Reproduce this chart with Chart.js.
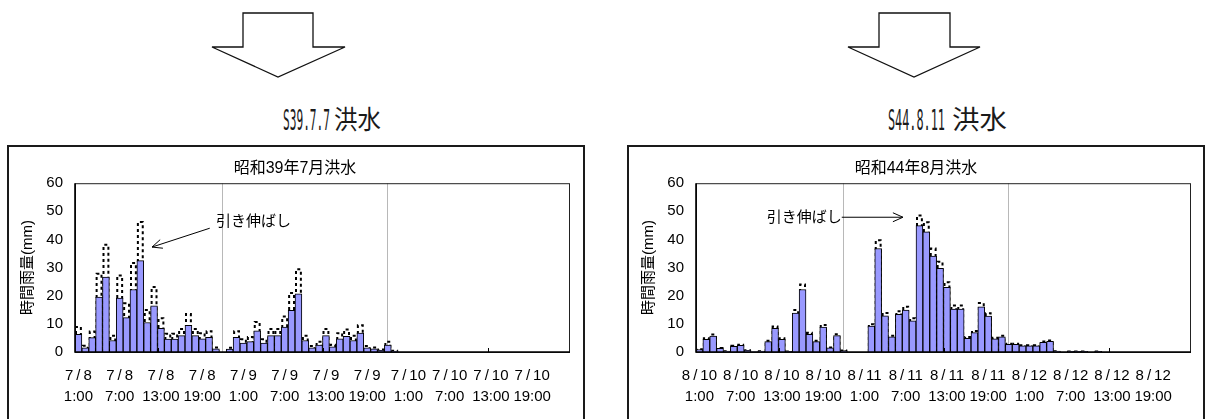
<!DOCTYPE html>
<html>
<head>
<meta charset="utf-8">
<script src="https://cdn.jsdelivr.net/npm/chart.js@4.4.1/dist/chart.umd.min.js"></script>
<style>
  html, body { margin:0; padding:0; background:#fff; width:1210px; height:419px; overflow:hidden; }
  body { position:relative; }
  .box { position:absolute; top:145px; height:320px; border:2px solid #1a1a1a; box-sizing:border-box; background:#fff; }
  canvas.cv { position:absolute; top:150px; }
  svg.heads { position:absolute; left:0; top:0; }
  svg.heads text { fill:#1a1a1a; }
  svg.heads .lat { font-family:'DejaVu Sans Mono', 'Liberation Mono', monospace; }
  svg.heads .kan { font-family:'Noto Sans CJK JP', sans-serif; }
</style>
</head>
<body>

<svg class="heads" width="1210" height="140">
  <polygon points="243,13 313,13 313,47 345,47 278,77 212,47 243,47" fill="#fff" stroke="#111" stroke-width="1.3"/>
  <polygon points="879,13 950,13 950,47 980,47 914,77 848,47 879,47" fill="#fff" stroke="#111" stroke-width="1.3"/>
  <text class="lat" x="283" y="130" font-size="29" textLength="47" lengthAdjust="spacingAndGlyphs">S39.7.7</text>
  <text class="kan" x="334" y="129" font-size="26" textLength="47" lengthAdjust="spacingAndGlyphs">洪水</text>
  <text class="lat" x="888" y="130" font-size="29" textLength="57" lengthAdjust="spacingAndGlyphs">S44.8.11</text>
  <text class="kan" x="952" y="129" font-size="26" textLength="55" lengthAdjust="spacingAndGlyphs">洪水</text>
</svg>

<div class="box" style="left:7px;width:578px"></div>
<div class="box" style="left:627px;width:578px"></div>

<canvas class="cv" id="c39" width="560" height="269" style="left:20px"></canvas>
<canvas class="cv" id="c44" width="559" height="269" style="left:641px"></canvas>

<script>
// ---- tick labels (one every 6 hours) ----
const s39TickLabels = [
  ["7/8","1:00"],["7/8","7:00"],["7/8","13:00"],["7/8","19:00"],
  ["7/9","1:00"],["7/9","7:00"],["7/9","13:00"],["7/9","19:00"],
  ["7/10","1:00"],["7/10","7:00"],["7/10","13:00"],["7/10","19:00"]
];
const s44TickLabels = [
  ["8/10","1:00"],["8/10","7:00"],["8/10","13:00"],["8/10","19:00"],
  ["8/11","1:00"],["8/11","7:00"],["8/11","13:00"],["8/11","19:00"],
  ["8/12","1:00"],["8/12","7:00"],["8/12","13:00"],["8/12","19:00"]
];

// ---- hourly rainfall (mm), from 1:00 of the first day ----
const s39Observed = [
  6.3, 1.5, 5.1, 19.5, 26.6, 4.1, 19.2, 12.2, 22.2, 32.5, 10.5, 16.4,
  8.4, 4.6, 4.6, 5.8, 9.5, 5.8, 4.7, 5.2, 1.1, 0, 1.0, 5.2,
  3.2, 3.7, 7.5, 3.2, 5.8, 5.8, 8.9, 14.8, 20.7, 4.1, 1.5, 2.5,
  5.8, 1.8, 4.7, 5.6, 4.1, 6.7, 1.5, 1.1, 0.6, 2.5, 0.3
];
const s39Stretched = [
  8.9, 2.2, 7.3, 27.8, 38.1, 5.8, 27.2, 17.3, 31.6, 46.2, 14.9, 23.1,
  12.0, 6.5, 6.5, 8.2, 13.5, 8.2, 6.7, 7.4, 1.6, 0, 1.5, 7.4,
  4.5, 5.3, 10.7, 4.5, 8.2, 8.2, 12.6, 21.0, 29.4, 5.8, 2.1, 3.6,
  8.2, 2.6, 6.7, 8.0, 5.8, 9.5, 2.1, 1.6, 0.9, 3.6, 0.4
];
const s44Observed = [
  0.9, 4.5, 5.7, 1.3, 0.3, 2.0, 2.4, 0.6, 0.1, 0.3, 3.7, 8.4,
  4.5, 0.2, 13.8, 22.2, 6.3, 3.7, 8.9, 1.5, 5.8, 0.5, 0, 0,
  0, 9.2, 36.8, 12.9, 5.4, 13.4, 14.9, 11.1, 44.9, 42.7, 34.1, 29.7,
  23.0, 15.3, 15.3, 4.9, 6.9, 16.1, 12.8, 4.7, 5.4, 2.7, 2.7, 2.2,
  2.2, 2.2, 3.4, 3.8, 0.3, 0, 0.2, 0.2, 0.2, 0, 0.2
];
const s44Stretched = [
  1.0, 4.9, 6.2, 1.4, 0.3, 2.2, 2.6, 0.6, 0.1, 0.3, 4.0, 9.1,
  4.9, 0.2, 14.9, 24.0, 6.8, 4.0, 9.6, 1.6, 6.3, 0.5, 0, 0,
  0, 9.9, 39.7, 13.9, 5.8, 14.5, 16.1, 12.0, 48.5, 46.1, 36.8, 32.1,
  24.8, 16.5, 16.5, 5.3, 7.5, 17.4, 13.8, 5.1, 5.8, 2.9, 2.9, 2.4,
  2.4, 2.4, 3.7, 4.1, 0.3, 0, 0.2, 0.2, 0.2, 0, 0.2
];

// hourly categories over three days
function hourlyCategories(month, firstDay) {
  const out = [];
  for (let d = 0; d < 3; d++) {
    for (let h = 1; h <= 24; h++) out.push(month + '/' + (firstDay + d) + ' ' + h + ':00');
  }
  return out;
}
const s39Hours = hourlyCategories(7, 8);
const s44Hours = hourlyCategories(8, 10);

const FONT = "'Liberation Sans', 'Noto Sans CJK JP', sans-serif";

// dashed outline for the stretched series, drawn under the observed bars
const dottedBars = {
  id: 'dottedBars',
  afterDatasetDraw(chart, args) {
    const ds = chart.data.datasets[args.index];
    if (!ds.dotted) return;
    const ctx = chart.ctx;
    ctx.save();
    ctx.strokeStyle = '#000';
    ctx.lineWidth = 2;
    ctx.setLineDash([3, 3]);
    args.meta.data.forEach(bar => {
      const p = bar.getProps(['x', 'y', 'base', 'width'], true);
      if (!(p.base - p.y > 0.5)) return;
      const l = p.x - p.width / 2 + 1, r = p.x + p.width / 2 - 1;
      ctx.beginPath();
      ctx.moveTo(l, p.base);
      ctx.lineTo(l, p.y);
      ctx.lineTo(r, p.y);
      ctx.lineTo(r, p.base);
      ctx.stroke();
    });
    ctx.restore();
  }
};

// plot frame and the small inside ticks every 12 hours
const plotFrame = {
  id: 'plotFrame',
  afterDatasetsDraw(chart) {
    const { ctx, chartArea: a, scales: { x } } = chart;
    ctx.save();
    ctx.strokeStyle = '#222';
    ctx.lineWidth = 1;
    ctx.strokeRect(a.left + 0.5, a.top + 0.5, a.right - a.left - 1, a.bottom - a.top);
    ctx.strokeStyle = '#000';
    ctx.lineWidth = 1.6;
    ctx.beginPath();
    ctx.moveTo(a.left, a.top); ctx.lineTo(a.left, a.bottom); ctx.lineTo(a.right, a.bottom);
    ctx.stroke();
    ctx.lineWidth = 1;
    [12, 36, 60].forEach(k => {
      const px = Math.round((x.getPixelForValue(k - 1) + x.getPixelForValue(k)) / 2) + 0.5;
      ctx.beginPath(); ctx.moveTo(px, a.bottom); ctx.lineTo(px, a.bottom - 4); ctx.stroke();
    });
    ctx.restore();
  }
};

// "引き伸ばし" note with its arrow
const callout = {
  id: 'callout',
  afterDatasetsDraw(chart, _a, opt) {
    if (!opt || !opt.text) return;
    const { ctx, scales: { x, y } } = chart;
    const P = pt => [x.getPixelForValue(pt[0]), y.getPixelForValue(pt[1])];
    const [tx, ty] = P(opt.textAt);
    const [fx, fy] = P(opt.from);
    const [ex, ey] = P(opt.to);
    ctx.save();
    ctx.fillStyle = '#000';
    ctx.font = '15px ' + FONT;
    ctx.textBaseline = 'middle';
    ctx.textAlign = 'left';
    ctx.fillText(opt.text, tx, ty);
    ctx.strokeStyle = '#000';
    ctx.lineWidth = 1;
    ctx.beginPath(); ctx.moveTo(fx, fy); ctx.lineTo(ex, ey); ctx.stroke();
    const ang = Math.atan2(ey - fy, ex - fx), L = 11, spread = 0.42;
    ctx.beginPath();
    ctx.moveTo(ex - L * Math.cos(ang - spread), ey - L * Math.sin(ang - spread));
    ctx.lineTo(ex, ey);
    ctx.lineTo(ex - L * Math.cos(ang + spread), ey - L * Math.sin(ang + spread));
    ctx.stroke();
    ctx.restore();
  }
};

function rainChart(id, cats, tickLabels, observed, stretched, title, yWidth, rightPad, note) {
  return new Chart(document.getElementById(id), {
    type: 'bar',
    data: {
      labels: cats,
      datasets: [
        { label: '引き伸ばし', data: stretched, dotted: true, order: 2, grouped: false,
          backgroundColor: 'rgba(0,0,0,0)', borderWidth: 0,
          barPercentage: 1, categoryPercentage: 1 },
        { label: '時間雨量', data: observed, order: 1, grouped: false,
          backgroundColor: '#9999ff', borderColor: '#000', borderWidth: 1,
          barPercentage: 1, categoryPercentage: 1 }
      ]
    },
    options: {
      responsive: false,
      animation: false,
      devicePixelRatio: 1,
      layout: { padding: { left: 0, right: rightPad, top: 0, bottom: 0 } },
      plugins: {
        legend: { display: false },
        tooltip: { enabled: false },
        title: { display: true, text: title, color: '#000',
                 font: { family: FONT, size: 16, weight: 'normal', lineHeight: 1.2 },
                 padding: { top: 9, bottom: 5 } },
        callout: note
      },
      scales: {
        x: {
          ticks: {
            autoSkip: false, maxRotation: 0, minRotation: 0, padding: 13, color: '#000',
            font: { family: FONT, size: 15, lineHeight: 1.4 },
            callback: (v, i) => i % 6 === 0
              ? tickLabels[i / 6].map(s => s.replace('/', '\u2009/\u2009')) : null
          },
          grid: { offset: true, drawTicks: false, lineWidth: 1,
                  color: c => (c.tick && (c.tick.value === 24 || c.tick.value === 48)) ? '#b8b8b8' : 'rgba(0,0,0,0)' },
          border: { display: false },
          afterFit: s => { s.height = 67; }
        },
        y: {
          min: 0, max: 60,
          ticks: { stepSize: 10, padding: 12, color: '#000', font: { family: FONT, size: 15 } },
          grid: { display: false, drawTicks: false },
          border: { display: false },
          title: { display: true, text: '時間雨量(mm)', color: '#000', padding: 0,
                   font: { family: FONT, size: 15, lineHeight: 1 } },
          afterFit: s => { s.width = yWidth; }
        }
      }
    },
    plugins: [dottedBars, plotFrame, callout]
  });
}

rainChart('c39', s39Hours, s39TickLabels, s39Observed, s39Stretched, '昭和39年7月洪水', 55, 10,
  { text: '引き伸ばし', textAt: [20.0, 46.2], from: [19.1, 44.0], to: [10.7, 37.3] });
rainChart('c44', s44Hours, s44TickLabels, s44Observed, s44Stretched, '昭和44年8月洪水', 55, 9,
  { text: '引き伸ばし', textAt: [9.8, 47.6], from: [20.7, 47.9], to: [29.6, 47.9] });
</script>
</body>
</html>
